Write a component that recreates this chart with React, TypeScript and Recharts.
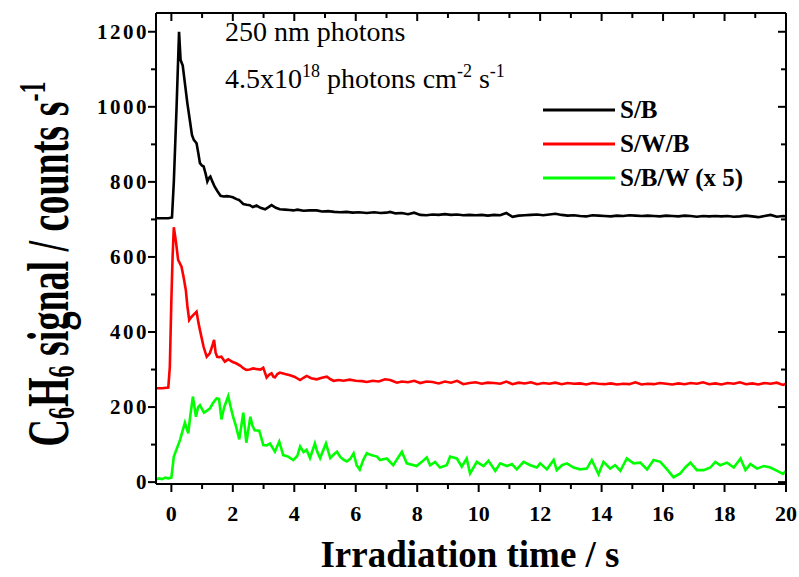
import React from "react";
import { LineChart, Line, XAxis, YAxis } from "recharts";

// S/B (black)
const sbTime = [
  -0.5, -0.3, -0.1, 0.02, 0.08, 0.17, 0.25, 0.3, 0.37, 0.44, 0.52, 0.6, 0.67, 0.73, 0.82, 0.88, 0.93, 1.0, 1.05,
  1.12, 1.17, 1.22, 1.27, 1.34, 1.41, 1.5, 1.6, 1.7, 1.8, 1.9, 2.0, 2.12, 2.2, 2.34, 2.45, 2.55, 2.65, 2.77, 2.9,
  3.05, 3.15, 3.26, 3.4, 3.53, 3.7, 3.85, 3.97, 4.1, 4.3, 4.5, 4.73, 4.9, 5.1, 5.3, 5.49, 5.7, 5.9, 6.1, 6.36, 6.6,
  6.8, 7.0, 7.12, 7.3, 7.5, 7.7, 7.9, 8.1, 8.3, 8.5, 8.7, 8.9, 9.1, 9.3, 9.5, 9.7, 9.9, 10.1, 10.3, 10.5, 10.7,
  10.9, 11.1, 11.3, 11.5, 11.7, 11.9, 12.1, 12.3, 12.5, 12.7, 12.9, 13.1, 13.3, 13.5, 13.7, 13.9, 14.1, 14.3, 14.5,
  14.7, 14.9, 15.1, 15.3, 15.5, 15.7, 15.9, 16.1, 16.3, 16.5, 16.7, 16.9, 17.1, 17.3, 17.5, 17.7, 17.9, 18.1, 18.3,
  18.5, 18.7, 18.9, 19.1, 19.3, 19.5, 19.7, 19.9, 20,
];
const sbCounts = [
  703, 703, 703, 705, 800, 1000, 1200, 1125, 1110, 1063, 1010, 965, 925, 912, 903, 875, 850, 843, 841,
  820, 801, 810, 814, 800, 787, 775, 763, 761, 762, 761, 759, 754, 752, 741, 739, 738, 733, 737, 731,
  727, 732, 738, 731, 727, 726, 725, 724, 726, 723, 724, 724, 721, 722, 720, 719, 720, 718, 719, 717, 719,
  717, 718, 720, 716, 717, 714, 718, 712, 711, 713, 712, 714, 712, 713, 711, 712, 711, 712, 710, 712, 711,
  717, 707, 710, 711, 712, 713, 711, 713, 715, 712, 710, 711, 709, 708, 711, 710, 709, 708, 710,
  709, 711, 710, 709, 710, 709, 708, 710, 709, 708, 710, 709, 707, 709, 708, 709, 708, 709, 707,
  708, 710, 708, 706, 709, 712, 707, 709, 708,
];

// S/W/B (red)
const swbTime = [
  -0.5, -0.3, -0.1, -0.05, 0.0, 0.04, 0.08, 0.15, 0.22, 0.33, 0.4, 0.47, 0.52, 0.58, 0.65, 0.71, 0.82, 0.88, 0.93,
  1.05, 1.15, 1.25, 1.32, 1.39, 1.44, 1.49, 1.56, 1.63, 1.74, 1.85, 2.0, 2.12, 2.25, 2.35, 2.44, 2.55, 2.66, 2.8,
  2.9, 2.99, 3.1, 3.18, 3.26, 3.32, 3.37, 3.45, 3.53, 3.7, 3.86, 4.0, 4.19, 4.3, 4.4, 4.55, 4.73, 4.9, 5.06, 5.18,
  5.28, 5.45, 5.6, 5.8, 6.0, 6.2, 6.36, 6.55, 6.75, 6.95, 7.12, 7.34, 7.5, 7.7, 7.9, 8.1, 8.3, 8.5, 8.7, 8.9, 9.1,
  9.3, 9.5, 9.7, 9.9, 10.1, 10.3, 10.5, 10.7, 10.9, 11.1, 11.3, 11.5, 11.7, 11.9, 12.1, 12.3, 12.5, 12.7, 12.9,
  13.1, 13.3, 13.5, 13.7, 13.9, 14.1, 14.3, 14.5, 14.7, 14.9, 15.1, 15.3, 15.5, 15.7, 15.9, 16.1, 16.3, 16.5, 16.7,
  16.9, 17.1, 17.3, 17.5, 17.7, 17.9, 18.1, 18.3, 18.5, 18.7, 18.9, 19.1, 19.3, 19.5, 19.7, 19.9, 20,
];
const swbCounts = [
  250, 250, 252, 307, 485, 600, 679, 640, 592, 574, 545, 512, 470, 432, 440, 445, 454, 425, 405,
  360, 334, 343, 360, 379, 345, 334, 333, 334, 321, 327, 320, 316, 310, 303, 299, 300, 303, 301,
  300, 305, 279, 286, 290, 281, 279, 288, 292, 288, 285, 281, 272, 278, 283, 277, 274, 278, 281, 274,
  270, 272, 270, 273, 270, 269, 267, 270, 268, 274, 272, 265, 268, 266, 270, 264, 268, 267, 263, 268, 265,
  270, 261, 264, 266, 262, 265, 264, 262, 268, 261, 265, 263, 266, 261, 264, 262, 265, 261, 264,
  262, 263, 260, 264, 262, 261, 263, 260, 262, 261, 266, 260, 262, 261, 264, 262, 260, 263, 261,
  264, 262, 266, 261, 263, 260, 264, 262, 266, 261, 263, 260, 264, 262, 265, 259, 262,
];

// S/B/W x5 (green)
const sbwTime = [
  -0.5, -0.4, -0.3, -0.2, -0.1, 0.0, 0.08, 0.18, 0.28, 0.36, 0.44, 0.55, 0.62, 0.7, 0.8, 0.87, 0.93, 1.06, 1.15,
  1.25, 1.35, 1.47, 1.55, 1.63, 1.72, 1.85, 1.93, 2.01, 2.1, 2.21, 2.34, 2.44, 2.57, 2.64, 2.71, 2.86, 2.99, 3.1,
  3.21, 3.37, 3.51, 3.64, 3.8, 3.97, 4.1, 4.19, 4.3, 4.4, 4.51, 4.67, 4.75, 4.84, 5.03, 5.17, 5.3, 5.39, 5.49, 5.6,
  5.71, 5.82, 5.93, 6.03, 6.13, 6.25, 6.36, 6.5, 6.69, 6.79, 7.01, 7.22, 7.5, 7.66, 7.98, 8.15, 8.31, 8.42, 8.58,
  8.74, 8.96, 9.07, 9.29, 9.45, 9.61, 9.72, 9.94, 10.16, 10.32, 10.54, 10.7, 10.92, 11.08, 11.24, 11.46, 11.68,
  11.89, 12.0, 12.22, 12.44, 12.54, 12.71, 12.87, 13.09, 13.3, 13.52, 13.68, 13.9, 14.06, 14.28, 14.44, 14.61,
  14.82, 15.04, 15.26, 15.48, 15.69, 15.91, 16.13, 16.34, 16.56, 16.72, 16.89, 17.1, 17.32, 17.54, 17.7, 17.86,
  18.08, 18.3, 18.52, 18.68, 18.84, 19.06, 19.28, 19.49, 19.76, 19.9, 20,
];
const sbwCounts = [
  8, 10, 8, 12, 10, 12, 68, 90, 112, 135, 158, 130, 180, 228, 174, 200, 205, 185, 190,
  196, 210, 223, 222, 167, 200, 229, 200, 174, 150, 114, 185, 105, 174, 150, 138, 137, 99, 98,
  103, 81, 108, 72, 68, 59, 70, 95, 80, 86, 64, 103, 80, 64, 103, 64, 75, 81, 68, 60,
  55, 62, 77, 45, 33, 60, 77, 72, 68, 59, 63, 45, 81, 50, 43, 54, 66, 45, 54,
  39, 45, 68, 63, 41, 63, 23, 54, 43, 57, 30, 50, 43, 48, 34, 54, 45,
  39, 50, 34, 59, 32, 45, 50, 39, 34, 36, 59, 21, 54, 36, 45, 30,
  63, 50, 52, 34, 59, 54, 34, 13, 23, 39, 52, 32, 32, 39, 54, 45,
  52, 39, 63, 32, 48, 36, 43, 39, 28, 22, 30,
];

const xTicks = [0, 1, 2, 3, 4, 5, 6, 7, 8, 9, 10, 11, 12, 13, 14, 15, 16, 17, 18, 19, 20];
const yTicks = [0, 100, 200, 300, 400, 500, 600, 700, 800, 900, 1000, 1100, 1200];

const toPoints = (t: number[], v: number[]) => t.map((time, i) => ({ time, value: v[i] }));
const sbData = toPoints(sbTime, sbCounts);
const swbData = toPoints(swbTime, swbCounts);
const sbwData = toPoints(sbwTime, sbwCounts);

const FONT = "'Liberation Serif', 'Times New Roman', serif";
const MAJOR = 8;
const MINOR = 5;

function BottomTick({ x, y, payload }: any) {
  const v = payload.value;
  const major = v % 2 === 0;
  return (
    <g>
      <line x1={x} x2={x} y1={y} y2={y + (major ? MAJOR : MINOR)} stroke="#000" strokeWidth={2} />
      {major && (
        <text x={x} y={y + 37} textAnchor="middle" fontFamily={FONT} fontWeight="bold" fontSize={22} fill="#000">
          {v}
        </text>
      )}
    </g>
  );
}

function TopTick({ x, y, payload }: any) {
  const major = payload.value % 2 === 0;
  return <line x1={x} x2={x} y1={y} y2={y + (major ? MAJOR : MINOR)} stroke="#000" strokeWidth={2} />;
}

function LeftTick({ x, y, payload }: any) {
  const v = payload.value;
  const major = v % 200 === 0;
  return (
    <g>
      <line x1={x} x2={x - (major ? MAJOR : MINOR)} y1={y} y2={y} stroke="#000" strokeWidth={2} />
      {major && (
        <text
          x={x - 7}
          y={y}
          dy="0.35em"
          textAnchor="end"
          fontFamily={FONT}
          fontWeight="bold"
          fontSize={21}
          letterSpacing={2.5}
          fill="#000"
        >
          {v}
        </text>
      )}
    </g>
  );
}

function RightTick({ x, y, payload }: any) {
  const major = payload.value % 200 === 0;
  return <line x1={x} x2={x - (major ? MAJOR : MINOR)} y1={y} y2={y} stroke="#000" strokeWidth={2} />;
}

const legendItems = [
  { name: "S/B", color: "#000000" },
  { name: "S/W/B", color: "#ff0000" },
  { name: "S/B/W (x 5)", color: "#00ff00" },
];

const axisLine = { stroke: "#000", strokeWidth: 2 };

export default function App() {
  return (
    <div style={{ position: "absolute", left: 0, top: 0, width: 799, height: 577, background: "#fff" }}>
      <LineChart width={799} height={577} margin={{ top: 12, right: 12, bottom: 92, left: 155 }}>
        <XAxis
          xAxisId="b"
          type="number"
          dataKey="time"
          domain={[-0.5, 20]}
          ticks={xTicks}
          interval={0}
          height={1}
          tickSize={0}
          tickMargin={0}
          tickLine={false}
          axisLine={axisLine}
          tick={BottomTick}
          allowDataOverflow
        />
        <XAxis
          xAxisId="t"
          orientation="top"
          type="number"
          dataKey="time"
          domain={[-0.5, 20]}
          ticks={xTicks}
          interval={0}
          height={1}
          tickSize={0}
          tickMargin={0}
          tickLine={false}
          axisLine={axisLine}
          tick={TopTick}
          allowDataOverflow
        />
        <YAxis
          yAxisId="l"
          type="number"
          domain={[-5, 1250]}
          ticks={yTicks}
          interval={0}
          width={1}
          tickSize={0}
          tickMargin={0}
          tickLine={false}
          axisLine={axisLine}
          tick={LeftTick}
          allowDataOverflow
        />
        <YAxis
          yAxisId="r"
          orientation="right"
          type="number"
          domain={[-5, 1250]}
          ticks={yTicks}
          interval={0}
          width={1}
          tickSize={0}
          tickMargin={0}
          tickLine={false}
          axisLine={axisLine}
          tick={RightTick}
          allowDataOverflow
        />
        <Line xAxisId="b" yAxisId="l" data={sbwData} dataKey="value" stroke="#00ff00" strokeWidth={2.6} dot={false} isAnimationActive={false} />
        <Line xAxisId="b" yAxisId="l" data={swbData} dataKey="value" stroke="#ff0000" strokeWidth={2.6} dot={false} isAnimationActive={false} />
        <Line xAxisId="b" yAxisId="l" data={sbData} dataKey="value" stroke="#000000" strokeWidth={2.6} dot={false} isAnimationActive={false} />
      </LineChart>

      <svg width={799} height={577} style={{ position: "absolute", left: 0, top: 0, pointerEvents: "none" }}>
        <g fontFamily={FONT} fill="#000">
          <text x={225} y={41} fontSize={28}>250 nm photons</text>
          <text x={225} y={88} fontSize={28}>
            4.5x10<tspan dy={-11} fontSize={18}>18</tspan>
            <tspan dy={11}> photons cm</tspan>
            <tspan dy={-11} fontSize={18}>-2</tspan>
            <tspan dy={11}> s</tspan>
            <tspan dy={-11} fontSize={18}>-1</tspan>
          </text>

          {legendItems.map((item, i) => (
            <g key={item.name}>
              <line x1={543} x2={615} y1={110 + i * 34} y2={110 + i * 34} stroke={item.color} strokeWidth={3} />
              <text x={620} y={110 + i * 34} dy="0.33em" fontSize={25} fontWeight="bold">
                {item.name}
              </text>
            </g>
          ))}

          <text x={470} y={567} textAnchor="middle" fontSize={37} fontWeight="bold">
            Irradiation time / s
          </text>

          <text transform="translate(68,264) rotate(-90) scale(1,1.55)" textAnchor="middle" fontSize={38} fontWeight="bold">
            C<tspan dy={4} fontSize={24}>6</tspan>
            <tspan dy={-4}>H</tspan>
            <tspan dy={4} fontSize={24}>6</tspan>
            <tspan dy={-4}> signal / counts s</tspan>
            <tspan dy={-15} fontSize={24}>-1</tspan>
          </text>
        </g>
      </svg>
    </div>
  );
}
